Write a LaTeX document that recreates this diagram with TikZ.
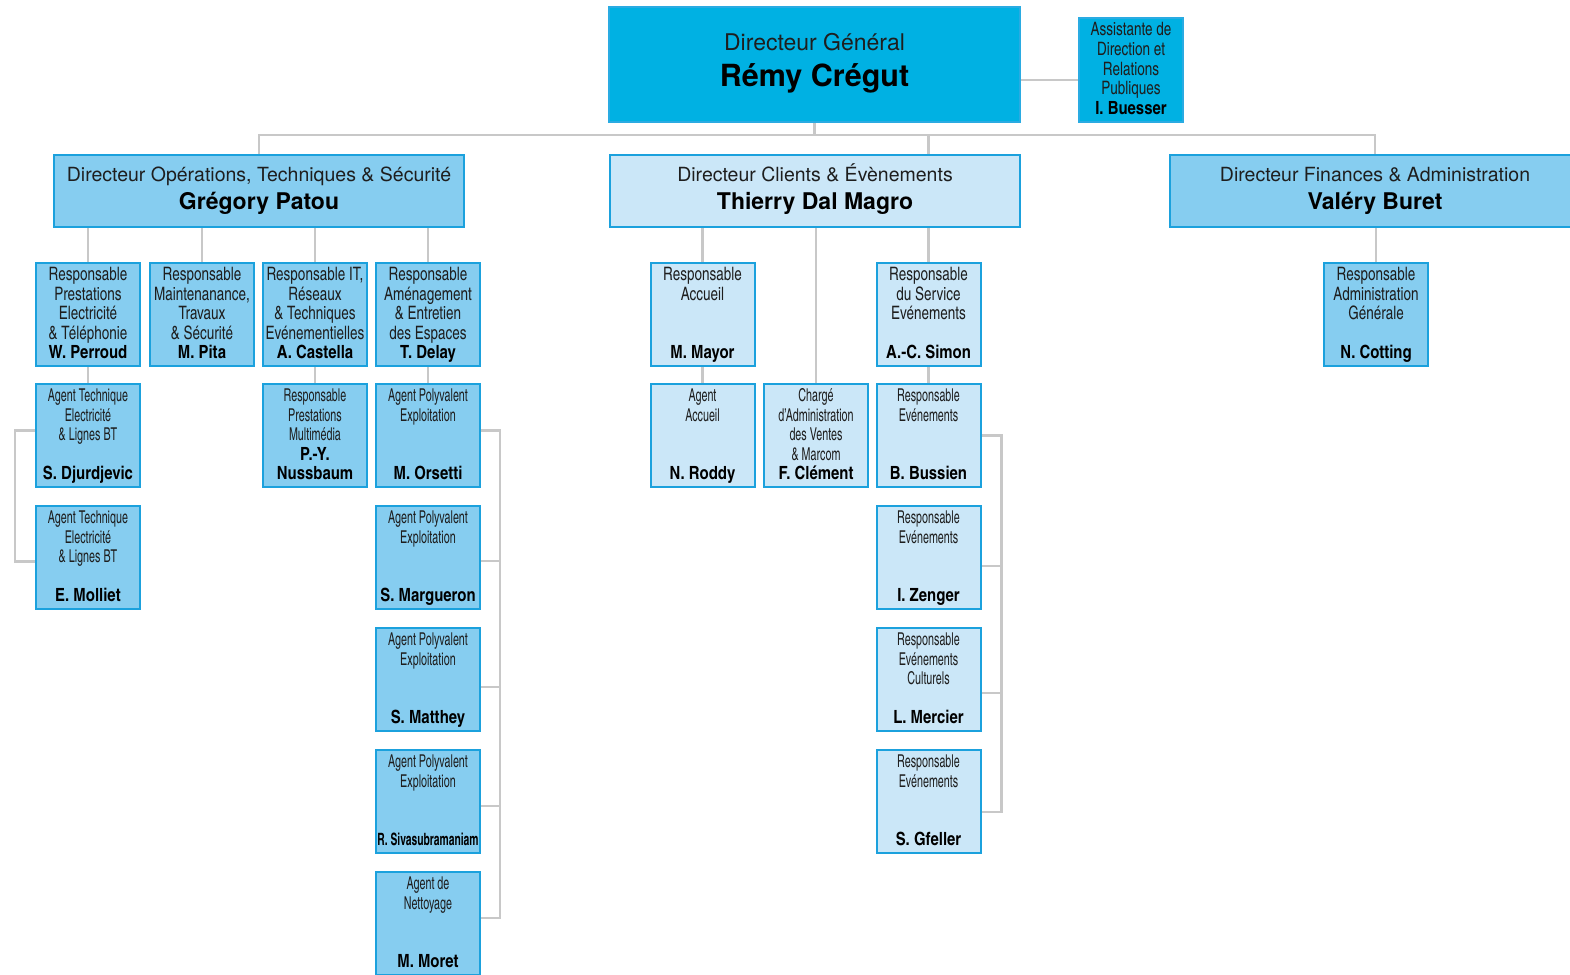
\documentclass[tikz,border=0pt]{standalone}
\usepackage{fontspec}
\setmainfont{TeX Gyre Heros}
\newfontfamily\cnfont{texgyreheroscn}[Extension=.otf,UprightFont=*-regular,BoldFont=*-bold,FakeStretch=0.89]
\newfontfamily\cnbold{texgyreheroscn}[Extension=.otf,UprightFont=*-regular,BoldFont=*-bold]
\newfontfamily\cnthinfont{texgyreheroscn}[Extension=.otf,UprightFont=*-regular,BoldFont=*-bold,FakeStretch=0.74]
\usetikzlibrary{calc}
\definecolor{dgfill}{HTML}{00B1E3}
\definecolor{dgline}{HTML}{2AABE2}
\definecolor{midfill}{HTML}{86CDF0}
\definecolor{boxline}{HTML}{1BA1DD}
\definecolor{litefill}{HTML}{CBE7F8}
\definecolor{conn}{HTML}{C8C8C8}
\definecolor{txt}{HTML}{1E1E1E}
\pgfdeclarelayer{bg}
\pgfsetlayers{bg,main}
\newcommand\nmfont{\cnbold\bfseries\fontsize{18.2}{19.5}\selectfont\color{black}}
\newcommand\orgbox[7]{%
  \node[#4] (#1) at (#2,#3+52.5) {};
  \foreach \ln [count=\i] in {#6} {\node[#5] (#1-l\i) at (#2,#3+18.5+19.5*\i-19.5) {\ln};}
  \node[nm] (#1-n) at (#2,#3+96.5) {#7};
}
\tikzset{
  midbox/.style={draw=boxline, fill=midfill, line width=2pt, minimum width=104pt, minimum height=103pt, inner sep=0pt, outer sep=0pt},
  litebox/.style={midbox, fill=litefill},
  dirbox/.style={draw=boxline, fill=midfill, line width=2pt, minimum width=410pt, minimum height=72pt, inner sep=0pt, outer sep=0pt},
  litedir/.style={dirbox, fill=litefill},
  dgbox/.style={draw=dgline, fill=dgfill, line width=1.5pt, minimum width=411pt, minimum height=115pt, inner sep=0pt, outer sep=0pt},
  asstbox/.style={draw=dgline, fill=dgfill, line width=1.5pt, minimum width=104pt, minimum height=104pt, inner sep=0pt, outer sep=0pt},
  link/.style={draw=conn, line width=2.2pt},
  ttl/.style={anchor=base, inner sep=0pt, text=txt, font=\cnfont\fontsize{18.5}{19.5}\selectfont},
  thin/.style={anchor=base, inner sep=0pt, text=txt, font=\cnthinfont\fontsize{17.7}{19.5}\selectfont},
  nm/.style={anchor=base, inner sep=0pt, text=black, font=\cnbold\bfseries\fontsize{18.2}{19.5}\selectfont},
  dirttl/.style={anchor=base, inner sep=0pt, text=txt, font=\fontsize{19.5}{22}\selectfont},
  dirnm/.style={anchor=base, inner sep=0pt, text=black, font=\bfseries\fontsize{23}{26}\selectfont},
}
\begin{document}
\begin{tikzpicture}[x=1pt,y=-1pt]
\begin{pgfonlayer}{bg}
\fill[white] (0,0) rectangle (1570,974);
\end{pgfonlayer}
\useasboundingbox (0,0) rectangle (1570,974);

% Top
\node[dgbox] (dg) at (814.5,64.5) {};
\node[anchor=base, inner sep=0pt, text=txt, font=\fontsize{23}{26}\selectfont] (dg-t) at (814.5,51) {Directeur Général};
\node[anchor=base, inner sep=0pt, text=black, font=\bfseries\fontsize{30.5}{34}\selectfont] (dg-n) at (814.5,86.5) {Rémy Crégut};

\node[asstbox] (asst) at (1131,70) {};
\foreach \ln [count=\i] in {Assistante de, Direction et, Relations, Publiques} {\node[ttl] (asst-l\i) at (1131,16.5+19.5*\i) {\ln};}
\node[nm] (asst-n) at (1131,114) {I. Buesser};

% Directors
\node[dirbox] (ops) at (259,191) {};
\node[dirttl] (ops-t) at (259,181) {Directeur Opérations, Techniques \& Sécurité};
\node[dirnm] (ops-n) at (259,209) {Grégory Patou};
\node[litedir] (cli) at (815,191) {};
\node[dirttl] (cli-t) at (815,181) {Directeur Clients \& Évènements};
\node[dirnm] (cli-n) at (815,209) {Thierry Dal Magro};
\node[dirbox] (fin) at (1375,191) {};
\node[dirttl] (fin-t) at (1375,181) {Directeur Finances \& Administration};
\node[dirnm] (fin-n) at (1375,209) {Valéry Buret};

% Operations
\orgbox{perr}{88}{262}{midbox}{ttl}{Responsable, Prestations, Electricité, \& Téléphonie}{W. Perroud}
\orgbox{pita}{202}{262}{midbox}{ttl}{Responsable, {Maintenanance,}, Travaux, \& Sécurité}{M. Pita}
\orgbox{cast}{315}{262}{midbox}{ttl}{{Responsable IT,}, Réseaux, \& Techniques, Evénementielles}{A. Castella}
\orgbox{dela}{428}{262}{midbox}{ttl}{Responsable, Aménagement, \& Entretien, des Espaces}{T. Delay}
\orgbox{djur}{88}{383}{midbox}{thin}{Agent Technique, Electricité, \& Lignes BT}{S. Djurdjevic}
\orgbox{moll}{88}{505}{midbox}{thin}{Agent Technique, Electricité, \& Lignes BT}{E. Molliet}
\orgbox{nuss}{315}{383}{midbox}{thin}{Responsable, Prestations, Multimédia, {\nmfont P.-Y.}}{Nussbaum}
\orgbox{orse}{428}{383}{midbox}{thin}{Agent Polyvalent, Exploitation}{M. Orsetti}
\orgbox{marg}{428}{505}{midbox}{thin}{Agent Polyvalent, Exploitation}{S. Margueron}
\orgbox{matt}{428}{627}{midbox}{thin}{Agent Polyvalent, Exploitation}{S. Matthey}
\orgbox{siva}{428}{749}{midbox}{thin}{Agent Polyvalent, Exploitation}{\cnthinfont\bfseries\fontsize{17}{19.5}\selectfont R. Sivasubramaniam}
\orgbox{more}{428}{871}{midbox}{thin}{Agent de, Nettoyage}{M. Moret}

% Clients
\orgbox{mayo}{702.5}{262}{litebox}{ttl}{Responsable, Accueil}{M. Mayor}
\orgbox{simo}{928.5}{262}{litebox}{ttl}{Responsable, du Service, Evénements}{A.-C. Simon}
\orgbox{rodd}{702.5}{383}{litebox}{thin}{Agent, Accueil}{N. Roddy}
\orgbox{clem}{816}{383}{litebox}{thin}{Chargé, d’Administration, des Ventes, \& Marcom}{F. Clément}
\orgbox{buss}{928.5}{383}{litebox}{thin}{Responsable, Evénements}{B. Bussien}
\orgbox{zeng}{928.5}{505}{litebox}{thin}{Responsable, Evénements}{I. Zenger}
\orgbox{merc}{928.5}{627}{litebox}{thin}{Responsable, Evénements, Culturels}{L. Mercier}
\orgbox{gfel}{928.5}{749}{litebox}{thin}{Responsable, Evénements}{S. Gfeller}

% Finances
\orgbox{cott}{1376}{262}{midbox}{ttl}{Responsable, Administration, Générale}{N. Cotting}

% Connectors
\begin{pgfonlayer}{bg}
\coordinate (bus) at (0,135);
\coordinate (ja) at (0,80);
\draw[link] (dg.east |- ja) -- (asst.west |- ja);
\draw[link] (dg.south) -- (dg.south |- bus);
\draw[link] (ops.north) |- (fin.north |- bus) -- (fin.north);
\draw[link] (cli.north -| simo.north) -- (simo.north |- bus);
% operations
\foreach \b in {perr,pita,cast,dela} {\draw[link] (ops.south -| \b.north) -- (\b.north);}
\draw[link] (perr.south) -- (djur.north);
\draw[link] (cast.south) -- (nuss.north);
\draw[link] (dela.south) -- (orse.north);
\draw[link] ([yshift=5pt]djur.west) -| ([xshift=-21pt,yshift=-4pt]moll.west) -- ([yshift=-4pt]moll.west);
\draw[link] ([yshift=5pt]orse.east) -| ([xshift=20pt,yshift=5.5pt]more.east) -- ([yshift=5.5pt]more.east);
\draw[link] ([yshift=-3.5pt]marg.east) -- ++(20,0);
\draw[link] ([yshift=-7.5pt]matt.east) -- ++(20,0);
\draw[link] ([yshift=-4.5pt]siva.east) -- ++(20,0);
% clients
\foreach \b in {mayo,clem,simo} {\draw[link] (cli.south -| \b.north) -- (\b.north);}
\draw[link] (mayo.south) -- (rodd.north);
\draw[link] (simo.south) -- (buss.north);
\draw[link] (buss.east) -| ([xshift=21pt,yshift=-10.5pt]gfel.east) -- ([yshift=-10.5pt]gfel.east);
\draw[link] ([yshift=-8.5pt]zeng.east) -- ++(21,0);
\draw[link] ([yshift=-13.5pt]merc.east) -- ++(21,0);
% finances
\draw[link] (fin.south -| cott.north) -- (cott.north);
\end{pgfonlayer}
\end{tikzpicture}
\end{document}
